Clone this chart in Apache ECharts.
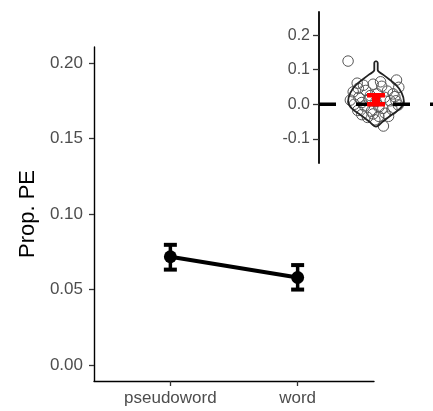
<!DOCTYPE html>
<html>
<head>
<meta charset="utf-8">
<script src="https://cdn.jsdelivr.net/npm/echarts@6/dist/echarts.min.js"></script>
<style>
  html, body { margin: 0; padding: 0; background: #fff; }
  #chart { width: 433px; height: 411px; }
</style>
</head>
<body>
<div id="chart"></div>
<script>
// main panel data
var categories = ['pseudoword', 'word']
var meanPE = [0.0717, 0.0580]
var lowPE = [0.0632, 0.0500]
var highPE = [0.0796, 0.0662]
var mainTicks = [0, 0.05, 0.10, 0.15, 0.20]

// inset panel data (difference scores)
var insetTicks = [-0.1, 0, 0.1, 0.2]
var violinY = [0.125, 0.120, 0.099, 0.085, 0.056, 0.033, 0.0075, -0.011, -0.031, -0.050, -0.065]
var violinHalf = [0, 0.03, 0.03, 0.13, 0.35, 0.45, 0.49, 0.43, 0.27, 0.12, 0]
var pointX = [-0.49, -0.33, 0.36, 0.40, -0.40, -0.31, -0.45, 0.16, 0.13, -0.25,
  0.39, 0.33, -0.05, 0.10, -0.18, 0.20, -0.30, 0.02, -0.12, 0.25,
  -0.38, -0.20, 0.05, 0.28, -0.32, -0.08, 0.12, -0.15, 0.05, 0.22,
  -0.02, 0.30, -0.25, 0.00, 0.15, -0.10, 0.35, -0.05, 0.08, -0.22]
var pointY = [0.125, 0.061, 0.070, 0.049, 0.036, 0.046, 0.012, -0.026, -0.063, -0.030,
  -0.002, 0.022, 0.058, 0.052, 0.040, 0.038, 0.020, 0.030, 0.015, 0.010,
  0.000, -0.005, -0.008, -0.015, -0.018, -0.020, -0.012, -0.038, -0.035, -0.035,
  -0.045, 0.030, 0.005, 0.008, 0.020, 0.025, 0.010, -0.028, 0.065, 0.055]
var diffMean = 0.0125
var diffLow = 0.000
var diffHigh = 0.026

var font = 'Liberation Sans, Arial, sans-serif'
var grey = '#4d4d4d'

var chart = echarts.init(document.getElementById('chart'))

// violin outline: right side top->bottom, left side bottom->top
var violinLine = []
for (var i = 0; i < violinY.length; i++) violinLine.push([violinHalf[i], violinY[i]])
for (var j = violinY.length - 1; j >= 0; j--) violinLine.push([-violinHalf[j], violinY[j]])

function errorBar(color, capPx, lw, vw) {
  return function (params, api) {
    var x = api.value(0)
    var lo = api.coord([x, api.value(2)])
    var hi = api.coord([x, api.value(3)])
    var st = { stroke: color, lineWidth: lw }
    return {
      type: 'group',
      children: [
        { type: 'line', shape: { x1: lo[0], y1: lo[1], x2: hi[0], y2: hi[1] }, style: { stroke: color, lineWidth: vw } },
        { type: 'line', shape: { x1: lo[0] - capPx / 2, y1: lo[1], x2: lo[0] + capPx / 2, y2: lo[1] }, style: st },
        { type: 'line', shape: { x1: hi[0] - capPx / 2, y1: hi[1], x2: hi[0] + capPx / 2, y2: hi[1] }, style: st }
      ]
    }
  }
}

chart.setOption({
  animation: false,
  grid: [
    { left: 94, top: 47, right: 59, bottom: 30 },
    { left: 319, top: 12, right: 0, bottom: 248 }
  ],
  xAxis: [
    {
      gridIndex: 0,
      type: 'value',
      min: 0.4,
      max: 2.6,
      splitLine: { show: false },
      axisLine: { show: true, onZero: false, lineStyle: { color: '#000', width: 1.4 } },
      axisTick: { show: true, customValues: [1, 2], length: 5, lineStyle: { color: '#333', width: 1.3 } },
      axisLabel: {
        customValues: [1, 2],
        margin: 9,
        color: grey,
        fontSize: 17,
        fontFamily: font,
        formatter: function (v) { return categories[Math.round(v) - 1] }
      }
    },
    {
      gridIndex: 1,
      type: 'value',
      min: -1,
      max: 1,
      show: false
    }
  ],
  yAxis: [
    {
      gridIndex: 0,
      type: 'value',
      min: -0.0105,
      max: 0.2105,
      name: 'Prop. PE',
      nameLocation: 'middle',
      nameGap: 55,
      nameTextStyle: { color: '#000', fontSize: 22, fontFamily: font },
      splitLine: { show: false },
      axisLine: { show: true, onZero: false, lineStyle: { color: '#000', width: 1.4 } },
      axisTick: { show: true, customValues: mainTicks, length: 5, lineStyle: { color: '#333', width: 1.3 } },
      axisLabel: {
        customValues: mainTicks,
        margin: 11,
        color: grey,
        fontSize: 17,
        fontFamily: font,
        formatter: function (v) { return v.toFixed(2) }
      }
    },
    {
      gridIndex: 1,
      type: 'value',
      min: -0.17,
      max: 0.267,
      splitLine: { show: false },
      axisLine: { show: true, onZero: false, lineStyle: { color: '#000', width: 1.8 } },
      axisTick: { show: true, customValues: insetTicks, length: 6, lineStyle: { color: '#333', width: 1.3 } },
      axisLabel: {
        customValues: insetTicks,
        margin: 9,
        color: grey,
        fontSize: 16,
        fontFamily: font,
        formatter: function (v) { return v.toFixed(1) }
      }
    }
  ],
  series: [
    {
      type: 'line',
      xAxisIndex: 0,
      yAxisIndex: 0,
      data: meanPE.map(function (m, i) { return [i + 1, m] }),
      symbol: 'none',
      lineStyle: { color: '#000', width: 4 },
      z: 2
    },
    {
      type: 'custom',
      xAxisIndex: 0,
      yAxisIndex: 0,
      data: meanPE.map(function (m, i) { return [i + 1, m, lowPE[i], highPE[i]] }),
      renderItem: errorBar('#000', 13, 4, 3.5),
      z: 3
    },
    {
      type: 'scatter',
      xAxisIndex: 0,
      yAxisIndex: 0,
      data: meanPE.map(function (m, i) { return [i + 1, m] }),
      symbolSize: 13,
      itemStyle: { color: '#000', opacity: 1 },
      z: 4
    },
    {
      type: 'scatter',
      xAxisIndex: 1,
      yAxisIndex: 1,
      data: pointX.map(function (x, i) { return [x, pointY[i]] }),
      symbol: 'circle',
      symbolSize: 10.5,
      itemStyle: { color: 'rgba(255,255,255,0)', borderColor: '#555', borderWidth: 1, opacity: 1 },
      z: 2
    },
    {
      type: 'line',
      xAxisIndex: 1,
      yAxisIndex: 1,
      data: violinLine,
      symbol: 'none',
      smooth: 0.35,
      lineStyle: { color: '#222', width: 1.8 },
      z: 3
    },
    {
      type: 'line',
      xAxisIndex: 1,
      yAxisIndex: 1,
      data: [[-1, 0], [1, 0]],
      symbol: 'none',
      lineStyle: { color: '#000', width: 3.5, type: [17, 20] },
      z: 4
    },
    {
      type: 'custom',
      xAxisIndex: 1,
      yAxisIndex: 1,
      data: [[0, diffMean, diffLow, diffHigh]],
      renderItem: errorBar('#ff0000', 18, 4.5, 8),
      z: 5
    }
  ]
})
</script>
</body>
</html>
